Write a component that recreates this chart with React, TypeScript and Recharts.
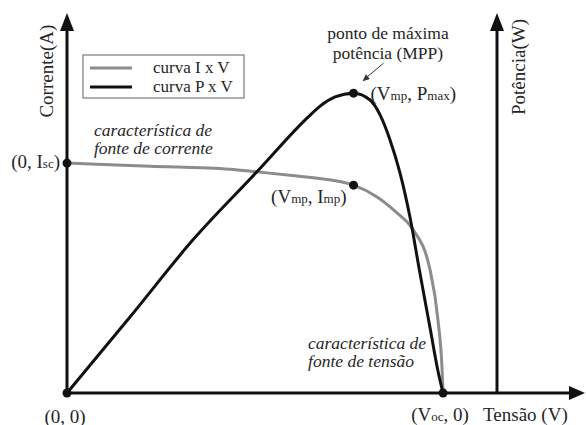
import { LineChart, Line, XAxis, YAxis, ReferenceLine, ReferenceDot } from "recharts";

// curva I x V (tensão em V, corrente em A)
const ivVoltage = [0, 4.4, 8.67, 10.1, 12.23, 13.94, 15.24, 16.49, 17.55, 18.35, 19.31, 19.73, 19.95, 20];
const ivCurrent = [6.05, 5.97, 5.89, 5.82, 5.71, 5.61, 5.47, 5.16, 4.74, 4.34, 3.24, 1.92, 0.61, 0];

// curva P x V (potência em W)
const pvVoltage = [0, 3.35, 6.7, 10.1, 12.82, 13.46, 14.26, 15.24, 16.12, 16.65, 17.18, 17.71, 18.24, 18.78, 19.31, 19.73, 20];
const pvPower = [0, 20.0, 40.3, 58.2, 72.6, 75.5, 77.9, 78.9, 77.1, 73.2, 66.6, 57.9, 46.3, 31.3, 17.1, 5.8, 0];

// pontos notáveis
const isc = 6.05;
const voc = 20;
const vmp = 15.24;
const imp = 5.47;
const pmax = 78.9;

// eixos
const vAxisEnd = 27.55;
const vPowerAxis = 22.87;
const iAxisTop = 10;
const pAxisTop = 100;

const ivRows = ivVoltage.map((v, k) => ({ v, i: ivCurrent[k] }));
const pvRows = pvVoltage.map((v, k) => ({ v, p: pvPower[k] }));

const serif = "Liberation Serif";
const ink = "#262626";
const black = "#111";
const grey = "#8c8c8c";

type P = { cx: number; cy: number };

const upArrow = ({ cx, cy }: P) => <path d={`M${cx},${cy} l-7,18 l14,0 z`} fill={black} />;
const rightArrow = ({ cx, cy }: P) => <path d={`M${cx},${cy} l-16,-7 l0,14 z`} fill={black} />;

const sub = (s: string) => <tspan style={{ fontSize: 13 }}>{s}</tspan>;

const dotWith = (label: React.ReactNode, dx: number, dy: number, anchor: string) => ({ cx, cy }: P) => (
  <g>
    <circle cx={cx} cy={cy} r={4.5} fill={black} />
    <text x={cx + dx} y={cy + dy} textAnchor={anchor} style={{ fontFamily: serif, fontSize: 19 }} fill={ink}>
      {label}
    </text>
  </g>
);

const lines = (rows: string[], italic: boolean, anchor: string, size: number, gap: number) => ({ cx, cy }: P) => (
  <text
    x={cx}
    y={cy}
    textAnchor={anchor}
    style={{ fontFamily: serif, fontSize: size, fontStyle: italic ? "italic" : "normal" }}
    fill={ink}
  >
    {rows.map((r, k) => (
      <tspan key={k} x={cx} dy={k === 0 ? 0 : gap}>
        {r}
      </tspan>
    ))}
  </text>
);

const vertical = (label: string) => ({ cx, cy }: P) => (
  <text
    x={cx}
    y={cy}
    transform={`rotate(-90 ${cx} ${cy})`}
    textAnchor="middle"
    style={{ fontFamily: serif, fontSize: 19 }}
    fill={ink}
  >
    {label}
  </text>
);

const legendBox = ({ cx, cy }: P) => (
  <g style={{ fontFamily: serif, fontSize: 17 }} fill={ink}>
    <rect x={cx} y={cy} width={161} height={43} fill="#fff" stroke="#7a7a7a" strokeWidth={1.2} />
    <line x1={cx + 7} x2={cx + 49} y1={cy + 13} y2={cy + 13} stroke={grey} strokeWidth={3} />
    <line x1={cx + 7} x2={cx + 49} y1={cy + 32} y2={cy + 32} stroke={black} strokeWidth={3} />
    <text x={cx + 70} y={cy + 18}>curva I x V</text>
    <text x={cx + 70} y={cy + 37}>curva P x V</text>
  </g>
);

const mppDot = ({ cx, cy }: P) => (
  <g>
    <circle cx={cx} cy={cy} r={4.5} fill={black} />
    <line x1={cx + 30} y1={cy - 30} x2={cx + 14} y2={cy - 16.6} stroke="#333" strokeWidth={1} />
    <path d={`M${cx + 9},${cy - 12} L${cx + 16.3},${cy - 14.3} L${cx + 12.4},${cy - 18.9} z`} fill="#333" />
    <text x={cx + 17} y={cy + 7} style={{ fontFamily: serif, fontSize: 19 }} fill={ink}>
      (V{sub("mp")}, P{sub("max")})
    </text>
  </g>
);

export default function App() {
  return (
    <div style={{ position: "absolute", left: 0, top: 0, width: 586, height: 425, background: "#fff" }}>
      <LineChart width={586} height={425} margin={{ top: 13, right: 1, bottom: 32, left: 67 }}>
        <XAxis type="number" dataKey="v" domain={[0, vAxisEnd]} hide />
        <YAxis yAxisId="i" type="number" domain={[0, iAxisTop]} hide />
        <YAxis yAxisId="p" type="number" domain={[0, pAxisTop]} hide />

        <ReferenceLine yAxisId="i" segment={[{ x: 0, y: 0 }, { x: 0, y: 9.6 }]} stroke={black} strokeWidth={3} ifOverflow="visible" />
        <ReferenceLine
          yAxisId="i"
          segment={[{ x: vPowerAxis, y: 0 }, { x: vPowerAxis, y: 9.6 }]}
          stroke={black}
          strokeWidth={3}
          ifOverflow="visible"
        />
        <ReferenceLine yAxisId="i" segment={[{ x: 0, y: 0 }, { x: 27.0, y: 0 }]} stroke={black} strokeWidth={3} ifOverflow="visible" />
        <ReferenceDot yAxisId="i" x={0} y={iAxisTop} shape={upArrow} ifOverflow="visible" />
        <ReferenceDot yAxisId="i" x={vPowerAxis} y={iAxisTop} shape={upArrow} ifOverflow="visible" />
        <ReferenceDot yAxisId="i" x={vAxisEnd} y={0} shape={rightArrow} ifOverflow="visible" />

        <Line
          data={ivRows}
          dataKey="i"
          yAxisId="i"
          type="monotone"
          stroke={grey}
          strokeWidth={3}
          dot={false}
          isAnimationActive={false}
        />
        <Line
          data={pvRows}
          dataKey="p"
          yAxisId="p"
          type="monotone"
          stroke={black}
          strokeWidth={3}
          dot={false}
          isAnimationActive={false}
        />

        <ReferenceDot yAxisId="i" x={0} y={isc} shape={dotWith(<>(0, I{sub("sc")})</>, -7, 5, "end")} ifOverflow="visible" />
        <ReferenceDot yAxisId="i" x={0} y={0} shape={dotWith("(0, 0)", -2, 30, "middle")} ifOverflow="visible" />
        <ReferenceDot yAxisId="i" x={voc} y={0} shape={dotWith(<>(V{sub("oc")}, 0)</>, -3, 28, "middle")} ifOverflow="visible" />
        <ReferenceDot yAxisId="i" x={vmp} y={imp} shape={dotWith(<>(V{sub("mp")}, I{sub("mp")})</>, -7, 18, "end")} ifOverflow="visible" />
        <ReferenceDot yAxisId="p" x={vmp} y={pmax} shape={mppDot} ifOverflow="visible" />

        <ReferenceDot yAxisId="i" x={-0.745} y={8.47} shape={vertical("Corrente(A)")} ifOverflow="visible" />
        <ReferenceDot yAxisId="i" x={24.36} y={8.58} shape={vertical("Potência(W)")} ifOverflow="visible" />
        <ReferenceDot yAxisId="i" x={22.13} y={-0.737} shape={lines(["Tensão (V)"], false, "start", 19, 0)} ifOverflow="visible" />
        <ReferenceDot yAxisId="i" x={0.851} y={8.895} shape={legendBox} ifOverflow="visible" />
        <ReferenceDot
          yAxisId="i"
          x={1.436}
          y={6.763}
          shape={lines(["característica de", "fonte de corrente"], true, "start", 17.5, 18)}
          ifOverflow="visible"
        />
        <ReferenceDot
          yAxisId="i"
          x={12.82}
          y={1.158}
          shape={lines(["característica de", "fonte de tensão"], true, "start", 17.5, 18)}
          ifOverflow="visible"
        />
        <ReferenceDot
          yAxisId="i"
          x={17.07}
          y={9.316}
          shape={lines(["ponto de máxima", "potência (MPP)"], false, "middle", 17.5, 20)}
          ifOverflow="visible"
        />
      </LineChart>
    </div>
  );
}
